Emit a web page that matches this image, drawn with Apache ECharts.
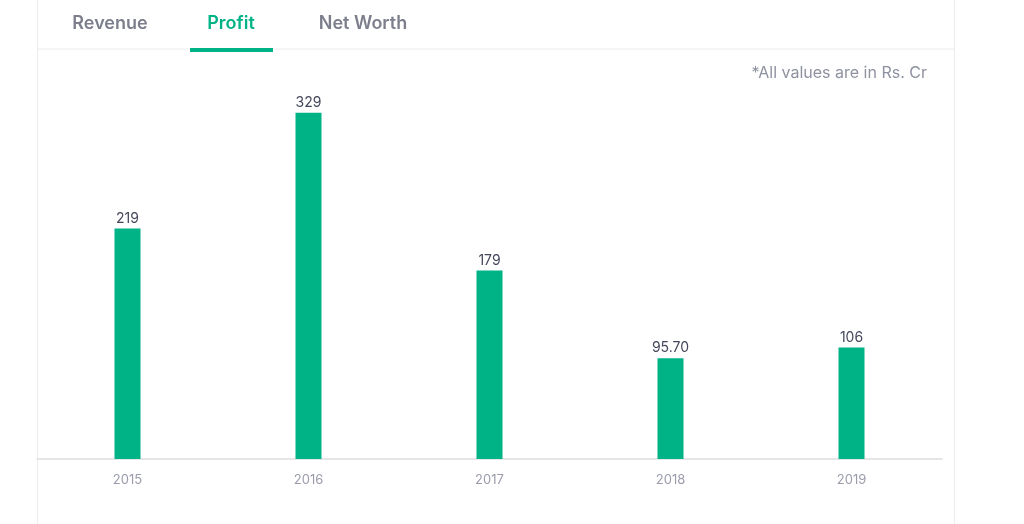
<!DOCTYPE html>
<html><head><meta charset="utf-8">
<script src="https://cdn.jsdelivr.net/npm/echarts@6/dist/echarts.min.js"></script>
<style>html,body{margin:0;padding:0;background:#fff}#c{width:1024px;height:524px}</style>
</head><body><div id="c"></div>
<script>
const years = ['2015','2016','2017','2018','2019'];
const profit = [219, 329, 179, 95.70, 106];
const tabs = ['Revenue','Profit','Net Worth'];
const activeTab = 'Profit';
const note = '*All values are in Rs. Cr';

const GREEN = '#00b386';
const FONT = 'Inter, "Noto Sans", sans-serif';
const tabCenters = [110, 231, 363];

const chart = echarts.init(document.getElementById('c'));
const graphics = [
  {type:'line', shape:{x1:37.5,y1:0,x2:37.5,y2:524}, style:{stroke:'#ececee',lineWidth:1}, silent:true},
  {type:'line', shape:{x1:954.5,y1:0,x2:954.5,y2:524}, style:{stroke:'#ececee',lineWidth:1}, silent:true},
  {type:'line', shape:{x1:37,y1:49,x2:954,y2:49}, style:{stroke:'#ececee',lineWidth:1}, silent:true},
  {type:'text', right: 1024-927, top: 65, style:{text: note, font:'16px '+FONT, fill:'#8e91a0'}}
];
tabs.forEach((t,i)=>{
  graphics.push({type:'text', x: tabCenters[i], y: 23.5, style:{text:t, font:'600 18px '+FONT, fill: t===activeTab?GREEN:'#7c7e8c', textAlign:'center', textVerticalAlign:'middle'}});
  if (t===activeTab) graphics.push({type:'rect', shape:{x:tabCenters[i]-41, y:48, width:83, height:4}, style:{fill:GREEN}});
});

chart.setOption({
  animation:false,
  grid:{left:37, right:1024-942, top:38, bottom:524-459, containLabel:false},
  xAxis:{type:'category', data:years,
    axisLine:{lineStyle:{color:'#e6e6e9', width:2}}, axisTick:{show:false},
    axisLabel:{color:'#9a9cab', fontSize:13, fontFamily:FONT, margin:15}},
  yAxis:{type:'value', min:0, max:400, show:false, splitLine:{show:false}},
  series:[{type:'bar', data:profit, barWidth:26, itemStyle:{color:GREEN},
    label:{show:true, position:'top', distance:3, color:'#44475b', fontSize:14, fontFamily:FONT,
      formatter: p => Number.isInteger(p.value) ? String(p.value) : p.value.toFixed(2)}}],
  graphic: graphics
});
</script></body></html>
